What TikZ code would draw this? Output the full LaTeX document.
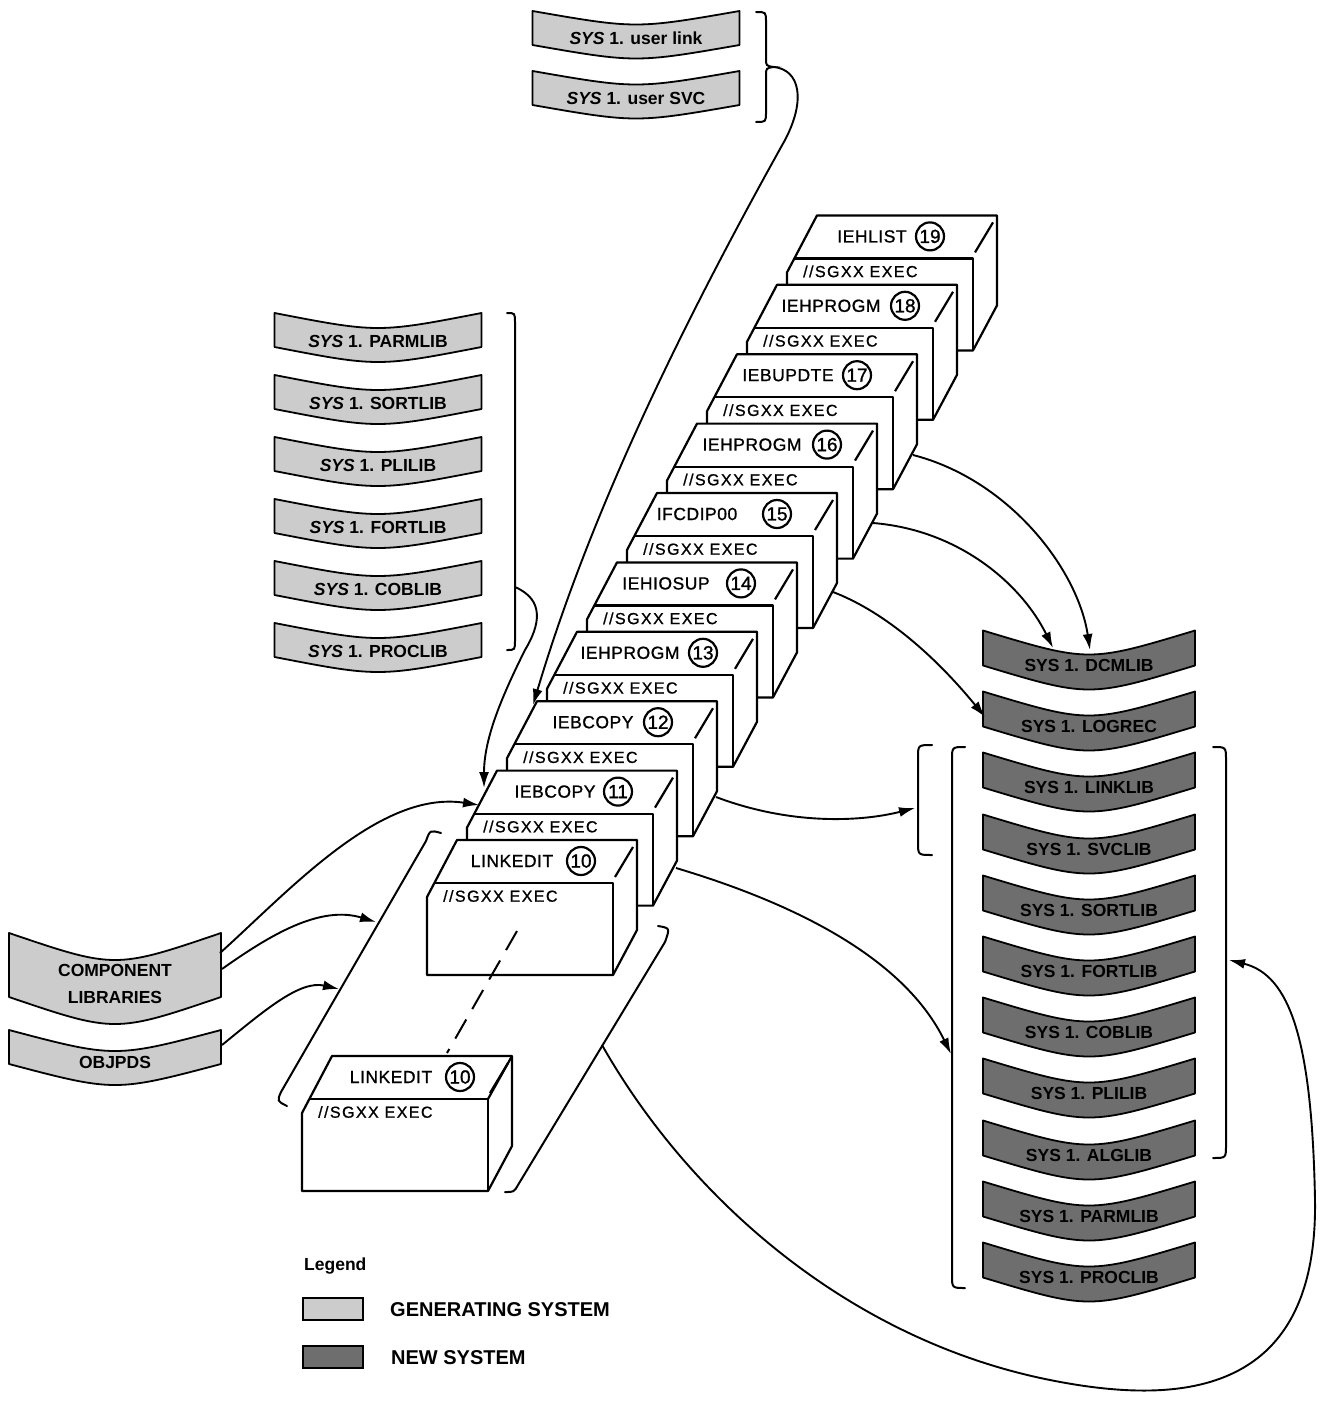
\documentclass[tikz,border=0pt]{standalone}
\usepackage{fontspec}
\setmainfont{Liberation Sans}
\newfontfamily\boxfont[LetterSpace=3,FakeBold=1]{Liberation Sans}
\newfontfamily\execfont[LetterSpace=9,FakeBold=1]{Liberation Sans}
\newfontfamily\numfont[FakeBold=1.2]{Liberation Sans}
\usetikzlibrary{arrows.meta}
\definecolor{genfill}{gray}{0.80}
\definecolor{newfill}{gray}{0.43}
\tikzset{
  boxline/.style={line width=2.2pt, line join=round},
  bandline/.style={line width=1.8pt, line join=round},
  genband/.style={bandline, fill=genfill},
  newband/.style={bandline, fill=newfill},
  bandtext/.style={font=\fontsize{17.5}{19}\selectfont\bfseries, inner sep=0pt, align=center},
  boxlabel/.style={font=\boxfont\fontsize{17.5}{20}\selectfont, inner sep=0pt},
  execlabel/.style={font=\execfont\fontsize{16}{18}\selectfont, inner sep=0pt, anchor=west},
  numcirc/.style={draw, circle, line width=2.2pt, minimum size=28pt, inner sep=0pt, font=\numfont\fontsize{19}{20}\selectfont},
  conn/.style={line width=1.9pt, -{Latex[length=16pt,width=10pt]}},
  bracket/.style={line width=2pt, line cap=round},
  legendtext/.style={font=\fontsize{20}{22}\selectfont\bfseries, inner sep=0pt, anchor=west},
}
% #1 name, #2 cx, #3 cy, #4 w, #5 h, #6 sag, #7 style, #8 text
\newcommand\libband[8]{%
  \begin{scope}[shift={(#2,#3)}]
    \filldraw[#7] ({-#4/2},{-#5/2}) .. controls (0,{-#5/2+2*#6}) .. ({#4/2},{-#5/2})
      -- ({#4/2},{#5/2}) .. controls (0,{#5/2+2*#6}) .. ({-#4/2},{#5/2}) -- cycle;
    \node[bandtext] (#1) at (0,{#6+1}) {#8};
  \end{scope}}
% #1 name, #2 fx, #3 fy, #4 label, #5 number, #6 label x offset, #7 circle x offset
\newcommand\sgbox[7]{%
  \begin{scope}[shift={(#2,#3)}]
    \filldraw[boxline,fill=white] (-6,14) -- (24,-43) -- (204,-43) -- (204,47) -- (180,92) -- (-6,92) -- cycle;
    \draw[boxline] (1.4,0) -- (180,0) -- (180,92);
    \draw[boxline] (182,-6) -- (200,-36);
    \node[boxlabel] (#1-l) at (#6,-22) {#4};
    \node[numcirc] (#1-n) at (#7,-22) {#5};
    \node[execlabel] (#1-e) at (10,13) {//SGXX EXEC};
    \coordinate (#1-tl) at (24,-43);
  \end{scope}}
\begin{document}
\begin{tikzpicture}[x=1pt,y=-1pt]
\useasboundingbox (0,0) rectangle (1338,1405);

% ---------- top user libraries ----------
\libband{ulink}{636}{28}{207}{34}{9}{genband}{{\itshape SYS} 1. user link}
\libband{usvc}{636}{88}{207}{34}{9}{genband}{{\itshape SYS} 1. user SVC}
\draw[bracket] (756,12) .. controls (766,12) .. (766,22) -- (766,58)
  .. controls (766,66) .. (774,67) .. controls (766,68) .. (766,76)
  -- (766,112) .. controls (766,122) .. (756,122);
\coordinate (topcusp) at (774,67);

% ---------- left generating-system libraries ----------
\libband{gparm}{378}{330}{207}{34}{10}{genband}{{\itshape SYS} 1. PARMLIB}
\libband{gsort}{378}{392}{207}{34}{10}{genband}{{\itshape SYS} 1. SORTLIB}
\libband{gpli}{378}{454}{207}{34}{10}{genband}{{\itshape SYS} 1. PLILIB}
\libband{gfort}{378}{516}{207}{34}{10}{genband}{{\itshape SYS} 1. FORTLIB}
\libband{gcob}{378}{578}{207}{34}{10}{genband}{{\itshape SYS} 1. COBLIB}
\libband{gproc}{378}{640}{207}{34}{10}{genband}{{\itshape SYS} 1. PROCLIB}
\draw[bracket] (507,313) .. controls (515,313) .. (515,323) -- (515,640) .. controls (515,650) .. (507,650);
\coordinate (leftbr) at (515,587);

% ---------- component libraries ----------
\libband{comp}{115}{965}{212}{64}{18}{genband}{COMPONENT\\[8pt]LIBRARIES}
\libband{objpds}{115}{1047}{212}{34}{14}{genband}{OBJPDS}
\coordinate (compA) at (220,953);
\coordinate (compB) at (222,969);
\coordinate (objA) at (222,1045);

% ---------- right new-system libraries ----------
\libband{ndcm}{1089}{648}{212}{35}{16}{newband}{SYS 1. DCMLIB}
\libband{nlog}{1089}{709}{212}{35}{16}{newband}{SYS 1. LOGREC}
\libband{nlink}{1089}{770}{212}{35}{16}{newband}{SYS 1. LINKLIB}
\libband{nsvc}{1089}{832}{212}{35}{16}{newband}{SYS 1. SVCLIB}
\libband{nsort}{1089}{893}{212}{35}{16}{newband}{SYS 1. SORTLIB}
\libband{nfort}{1089}{954}{212}{35}{16}{newband}{SYS 1. FORTLIB}
\libband{ncob}{1089}{1015}{212}{35}{16}{newband}{SYS 1. COBLIB}
\libband{npli}{1089}{1076}{212}{35}{16}{newband}{SYS 1. PLILIB}
\libband{nalg}{1089}{1138}{212}{35}{16}{newband}{SYS 1. ALGLIB}
\libband{nparm}{1089}{1199}{212}{35}{16}{newband}{SYS 1. PARMLIB}
\libband{nproc}{1089}{1260}{212}{35}{16}{newband}{SYS 1. PROCLIB}

% right brackets
\draw[bracket] (932,745) .. controls (918,745) .. (918,758) -- (918,842) .. controls (918,855) .. (932,855);
\draw[bracket] (965,747) .. controls (952,747) .. (952,760) -- (952,1275) .. controls (952,1288) .. (965,1288);
\draw[bracket] (1213,747) .. controls (1226,747) .. (1226,760) -- (1226,1145) .. controls (1226,1158) .. (1213,1158);
\coordinate (smallbr) at (915,808);
\coordinate (bigbrL) at (951,1054);
\coordinate (bigbrR) at (1229,960);

% ---------- job step boxes (back to front) ----------
\sgbox{b19}{793}{258.4}{IEHLIST}{19}{79}{137}
\sgbox{b18}{753}{327.8}{IEHPROGM}{18}{78}{152}
\sgbox{b17}{713}{397.2}{IEBUPDTE}{17}{75}{144}
\sgbox{b16}{673}{466.6}{IEHPROGM}{16}{79}{154}
\sgbox{b15}{633}{536}{IFCDIP00}{15}{64}{144}
\sgbox{b14}{593}{605.4}{IEHIOSUP}{14}{73}{148}
\sgbox{b13}{553}{674.8}{IEHPROGM}{13}{77}{150}
\sgbox{b12}{513}{744.2}{IEBCOPY}{12}{80}{145}
\sgbox{b11}{473}{813.6}{IEBCOPY}{11}{82}{145}
\sgbox{b10}{433}{883}{LINKEDIT}{10}{79}{148}
\sgbox{b10x}{308}{1099}{LINKEDIT}{10}{83}{152}
\draw[boxline] (b10x-tl) ++(180,0) -- ++(-24,43);

% dashed link between the LINKEDIT boxes
\coordinate (dashA) at (517,931);
\coordinate (dashB) at (447,1053);
\draw[line width=2pt, dash pattern=on 22pt off 12pt] (dashA) -- (dashB);

% slanted brackets round the LINKEDIT steps
\draw[bracket] (441,833) .. controls (430,830) .. (426,841) -- (281,1092) .. controls (277,1101) .. (287,1106);
\draw[bracket] (658,926) .. controls (670,928) .. (665,942) -- (518,1185) .. controls (514,1192) .. (505,1192);
\coordinate (linkbrL1) at (376,922);
\coordinate (linkbrL2) at (339,989);
\coordinate (linkbrR) at (602,1045);

% ---------- connectors ----------
\coordinate (b11in) at (484,788);
\coordinate (b11side) at (479,805);
\coordinate (b12in) at (533,705);
\draw[conn] (topcusp) .. controls (800,70) and (806,100) .. (785,140)
  .. controls (679,330) and (590,514) .. (b12in);
\draw[conn] (leftbr) .. controls (545,600) and (540,625) .. (525,650)
  .. controls (500,700) and (484,740) .. (b11in);
\draw[conn] (compA) .. controls (290,890) and (380,790) .. (b11side);
\draw[conn] (compB) .. controls (270,935) and (320,905) .. (linkbrL1);
\draw[conn] (objA) .. controls (265,1010) and (300,980) .. (linkbrL2);

\coordinate (s17) at (913,455);
\coordinate (s16) at (873,523);
\coordinate (s15) at (833,592);
\coordinate (s12) at (716,797);
\coordinate (s11) at (676,868);
\coordinate (dcmR) at (1090,650);
\coordinate (dcmL) at (1053,648);
\coordinate (login) at (985,717);
\draw[conn] (s17) .. controls (1010,480) and (1078,570) .. (dcmR);
\draw[conn] (s16) .. controls (960,530) and (1022,585) .. (dcmL);
\draw[conn] (s15) .. controls (880,610) and (930,650) .. (login);
\draw[conn] (s12) .. controls (790,825) and (860,822) .. (smallbr);
\draw[conn] (s11) .. controls (800,905) and (905,960) .. (bigbrL);
\draw[conn] (linkbrR) .. controls (690,1200) and (850,1340) .. (1050,1380)
  .. controls (1175,1405) and (1318,1400) .. (1315,1200)
  .. controls (1312,1040) and (1290,975) .. (bigbrR);

% ---------- legend ----------
\node[legendtext, font=\fontsize{17.5}{19}\selectfont\bfseries] (leg) at (304,1266) {Legend};
\draw[line width=1.5pt, fill=genfill] (303,1298) rectangle (363,1320);
\node[legendtext] (leggen) at (390,1310) {GENERATING SYSTEM};
\draw[line width=1.5pt, fill=newfill] (303,1346) rectangle (363,1368);
\node[legendtext] (legnew) at (391,1358) {NEW SYSTEM};
\end{tikzpicture}
\end{document}
